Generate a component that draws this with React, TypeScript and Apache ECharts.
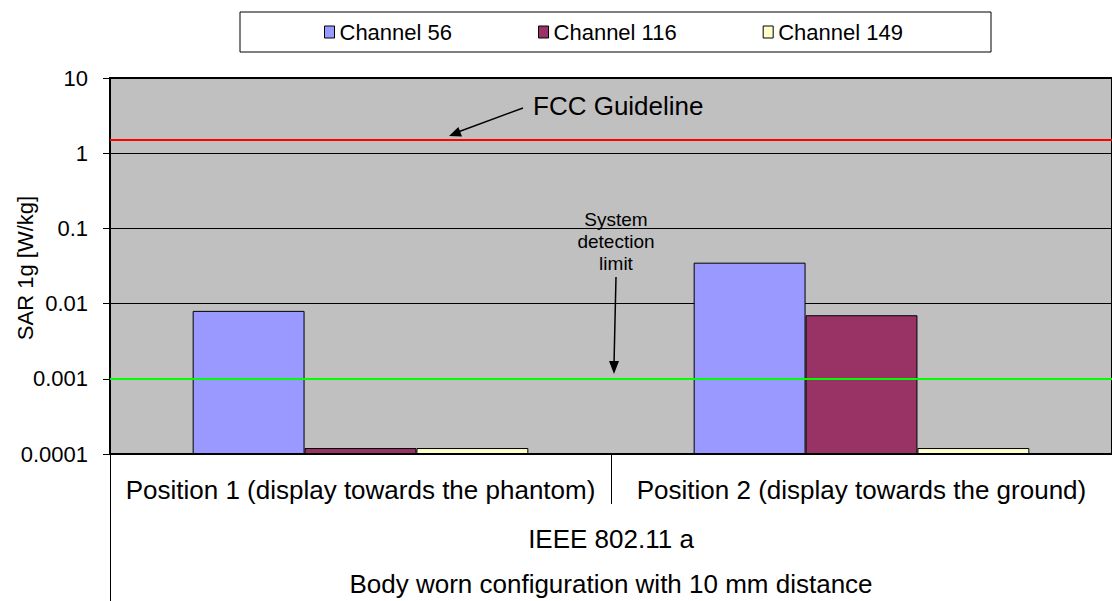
import React, { useEffect, useRef } from "react";
import * as echarts from "echarts";

const positions = [
  "Position 1 (display towards the phantom)",
  "Position 2 (display towards the ground)",
];
const standardLabel = ["IEEE 802.11 a"];
const configLabel = ["Body worn configuration with 10 mm distance"];
const seriesNames = ["Channel 56", "Channel 116", "Channel 149"];
const channel56 = [0.008, 0.035];
const channel116 = [0.00012, 0.007];
const channel149 = [0.00012, 0.00012];
const seriesColors = ["#9999FF", "#993366", "#FFFFCC"];
const yTickLabels = ["0.0001", "0.001", "0.01", "0.1", "1", "10"];
const yAxisTitle = "SAR 1g [W/kg]";
const AXIS_MIN = 0.0001;
const fccGuideline = 1.5;
const detectionLimit = 0.001;

const FONT = "'Liberation Sans', Arial, sans-serif";
const toDecades = (v: number) => Math.log10(v) - Math.log10(AXIS_MIN);

export default function App() {
  const ref = useRef<HTMLDivElement>(null);
  useEffect(() => {
    if (!ref.current) return;
    const chart = echarts.init(ref.current, undefined, { renderer: "svg" });
    const allSeries = [channel56, channel116, channel149];
    chart.setOption({
      animation: false,
      textStyle: { fontFamily: FONT },
      grid: {
        left: 110,
        right: 0,
        top: 78,
        bottom: 147,
        containLabel: false,
        outerBoundsMode: "none",
        show: true,
        backgroundColor: "#C0C0C0",
        borderColor: "#000",
        borderWidth: 2,
      },
      legend: {
        data: seriesNames,
        left: 324,
        top: 21,
        padding: 0,
        itemWidth: 10,
        itemHeight: 12,
        itemGap: 86,
        icon: "rect",
        itemStyle: { borderColor: "#000", borderWidth: 1 },
        textStyle: { fontSize: 22, color: "#000", fontFamily: FONT },
      },
      xAxis: [
        {
          type: "category",
          data: positions,
          position: "bottom",
          axisLine: { show: true, lineStyle: { color: "#000", width: 2 } },
          axisTick: { show: true, length: 50, lineStyle: { color: "#000", width: 1 } },
          axisLabel: { interval: 0, margin: 23, fontSize: 26, color: "#000", fontFamily: FONT },
          splitLine: { show: false },
        },
        {
          type: "category",
          data: standardLabel,
          position: "bottom",
          axisLine: { show: false },
          axisTick: { show: true, length: 147, lineStyle: { color: "#000", width: 1 } },
          axisLabel: { interval: 0, margin: 72, fontSize: 26, color: "#000", fontFamily: FONT },
          splitLine: { show: false },
        },
        {
          type: "category",
          data: configLabel,
          position: "bottom",
          axisLine: { show: false },
          axisTick: { show: false },
          axisLabel: { interval: 0, margin: 117, fontSize: 26, color: "#000", fontFamily: FONT },
          splitLine: { show: false },
        },
      ],
      yAxis: {
        type: "value",
        min: 0,
        max: yTickLabels.length - 1,
        interval: 1,
        axisLine: { show: true, lineStyle: { color: "#000", width: 2 } },
        axisTick: { show: true, inside: false, length: 7, lineStyle: { color: "#000" } },
        axisLabel: {
          margin: 22,
          fontSize: 22,
          color: "#000",
          fontFamily: FONT,
          formatter: (v: number) => yTickLabels[Math.round(v)] ?? "",
        },
        splitLine: { show: true, lineStyle: { color: "#000", width: 1 } },
      },
      series: seriesNames.map((name, i) => ({
        name,
        type: "bar",
        xAxisIndex: 0,
        barGap: "0%",
        barCategoryGap: "33%",
        data: allSeries[i].map(toDecades),
        itemStyle: { color: seriesColors[i], borderColor: "#000", borderWidth: 1 },
        ...(i === 0
          ? {
              markLine: {
                silent: true,
                symbol: ["none", "none"],
                label: { show: false },
                data: [
                  { yAxis: toDecades(fccGuideline), lineStyle: { color: "#FF0000", width: 2, type: "solid" } },
                  { yAxis: toDecades(detectionLimit), lineStyle: { color: "#00FF00", width: 2, type: "solid" } },
                ],
              },
            }
          : {}),
      })),
      graphic: [
        {
          type: "rect",
          z: -1,
          shape: { x: 240, y: 12, width: 751, height: 40 },
          style: { fill: "#fff", stroke: "#000", lineWidth: 1 },
        },
        {
          type: "text",
          z: 10,
          x: 25,
          y: 268,
          rotation: Math.PI / 2,
          style: {
            text: yAxisTitle,
            font: `22px ${FONT}`,
            fill: "#000",
            align: "center",
            verticalAlign: "middle",
          },
        },
        {
          type: "text",
          z: 10,
          x: 533,
          y: 106,
          style: { text: "FCC Guideline", fill: "#000", font: `26px ${FONT}`, verticalAlign: "middle" },
        },
        {
          type: "line",
          z: 10,
          shape: { x1: 523, y1: 108, x2: 458, y2: 132 },
          style: { stroke: "#000", lineWidth: 1.5 },
        },
        {
          type: "polygon",
          z: 10,
          shape: { points: [[449, 136], [462, 136.4], [458.4, 127.1]] },
          style: { fill: "#000" },
        },
        {
          type: "text",
          z: 10,
          x: 616,
          y: 241,
          style: {
            text: "System\ndetection\nlimit",
            font: `19px ${FONT}`,
            fill: "#000",
            align: "center",
            verticalAlign: "middle",
            lineHeight: 22,
          },
        },
        {
          type: "line",
          z: 10,
          shape: { x1: 616, y1: 277, x2: 614, y2: 364 },
          style: { stroke: "#000", lineWidth: 1.5 },
        },
        {
          type: "polygon",
          z: 10,
          shape: { points: [[614, 374], [609, 361], [619, 361]] },
          style: { fill: "#000" },
        },
      ],
    });
    return () => chart.dispose();
  }, []);
  return (
    <div
      ref={ref}
      style={{ position: "absolute", left: 0, top: 0, width: 1112, height: 601 }}
    />
  );
}
